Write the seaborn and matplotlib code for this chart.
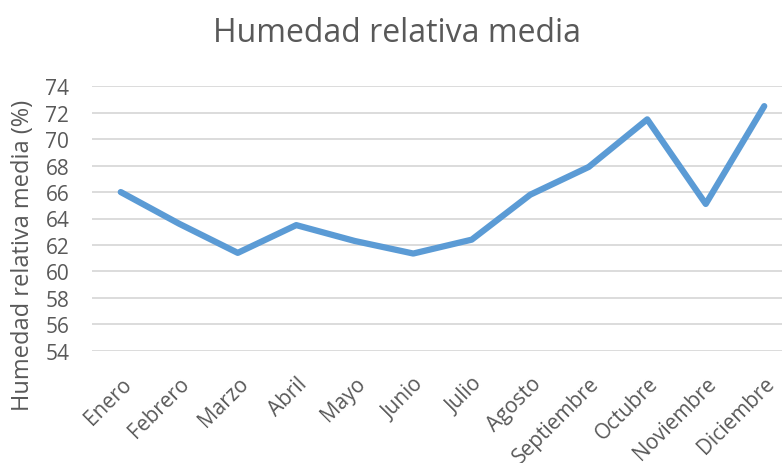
import matplotlib
matplotlib.use("Agg")
import matplotlib.pyplot as plt
import seaborn as sns
import pandas as pd

# ── Datos ─────────────────────────────────────────────────────────────────────
meses = ["Enero", "Febrero", "Marzo", "Abril", "Mayo", "Junio",
         "Julio", "Agosto", "Septiembre", "Octubre", "Noviembre", "Diciembre"]
humedad = [66.0, 63.6, 61.4, 63.5, 62.3, 61.35,
           62.4, 65.8, 67.9, 71.5, 65.1, 72.5]
y_ticks = list(range(54, 75, 2))

TEXT = "#595959"
GRID = "#D9D9D9"
LINE = "#5B9BD5"

sns.set_theme(style="white")
plt.rcParams["font.family"] = ["Open Sans", "DejaVu Sans"]

df = pd.DataFrame({"mes": meses, "humedad": humedad})

fig = plt.figure(figsize=(7.82, 4.64), dpi=100)
left = 91.5 / 782
ax = fig.add_axes([left, 1 - 351.7 / 464, 1 - left, (351.7 - 87.3) / 464])

sns.lineplot(data=df, x="mes", y="humedad", sort=False, color=LINE,
             linewidth=4.5, ax=ax, solid_capstyle="round", solid_joinstyle="round")

ax.set_xlim(-0.5, (782 - 91.5) / 58.5 - 0.5)
ax.set_ylim(54, 74)
ax.set_yticks(y_ticks)
ax.yaxis.grid(True, color=GRID, linewidth=1.3)
ax.set_axisbelow(True)
for s in ax.spines.values():
    s.set_visible(False)

ax.tick_params(axis="y", colors=TEXT, labelsize=15, length=0, pad=16)
ax.tick_params(axis="x", colors=TEXT, labelsize=15, length=0, pad=16)
ax.set_xticks(range(len(meses)))
ax.set_xticklabels(meses, rotation=45, ha="right", rotation_mode="anchor")

ax.set_xlabel("")
ax.set_ylabel("")
fig.text(23 / 782, 1 - 255 / 464, "Humedad relativa media (%)", color=TEXT,
         fontsize=17, rotation=90, ha="center", va="center")
fig.text(397 / 782, 1 - 34 / 464, "Humedad relativa media", color=TEXT,
         fontsize=23, ha="center", va="center")

fig.savefig("out.png", dpi=100, facecolor="white")
